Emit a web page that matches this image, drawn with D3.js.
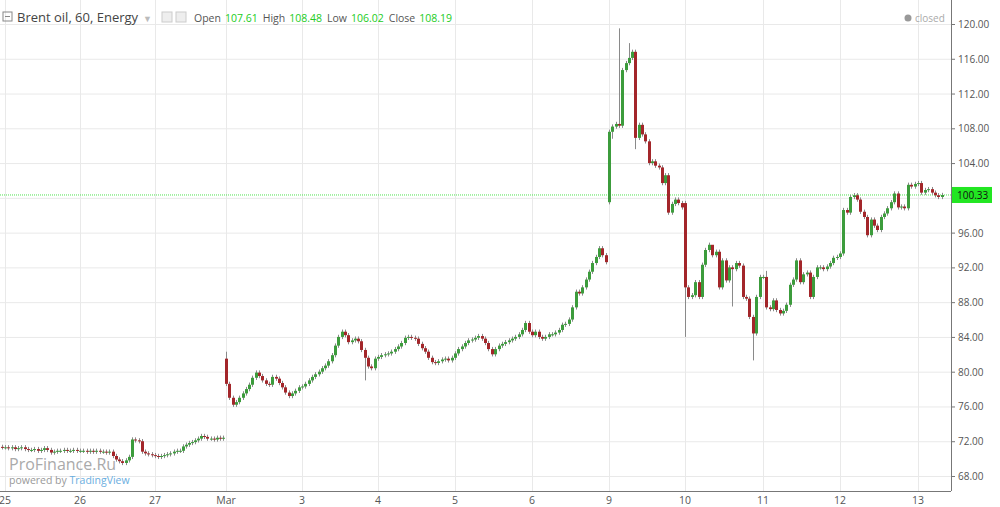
<!DOCTYPE html>
<html>
<head>
<meta charset="utf-8">
<script src="https://cdn.jsdelivr.net/npm/d3@7"></script>
<style>
  body { margin: 0; background: #fff; font-family: "Open Sans", Arial, sans-serif; }
  svg { display: block; }
</style>
</head>
<body>
<div id="chart"></div>
<script>
// hourly closes, one array per trading day (23 bars each)
const dayLabels = ["25", "26", "27", "Mar", "3", "4", "5", "6", "9", "10", "11", "12", "13"]
const dayPos = [5, 80, 155, 226, 302, 378, 455, 532, 609, 685, 763, 840, 918]
const preClose = 71.3
const dayCloses = [
  [71.3,71.2,71.3,71.1,71.2,71.3,71.1,71.0,71.0,71.1,70.9,71.0,71.2,71.0,70.7,70.8,70.9,70.9,71.0,70.9,70.9,71.0,70.9],
  [70.9,70.9,70.8,70.9,70.8,70.9,70.8,70.8,70.7,70.8,70.3,69.9,69.7,69.5,69.8,70.2,72.2,72.1,72.0,70.8,70.6,70.5,70.4],
  [70.3,70.2,70.3,70.4,70.5,70.6,70.8,70.9,70.9,71.4,71.6,71.8,71.9,72.1,72.3,72.6,72.5,72.3,72.3,72.2,72.4,72.3,72.4],
  [78.6,77.0,76.2,76.5,77.0,77.5,78.0,78.5,79.3,79.9,79.5,79.0,78.6,78.5,79.4,79.2,78.7,78.2,77.6,77.2,77.5,77.8,78.2],
  [78.3,78.6,79.0,79.4,79.7,80.0,80.4,80.7,81.2,81.9,83.0,84.0,84.6,84.2,83.4,83.6,83.8,83.5,82.5,81.6,80.6,80.4,81.5],
  [81.7,81.9,82.0,82.1,82.3,82.6,82.9,83.3,83.9,84.0,83.9,83.8,83.2,82.7,82.3,81.6,81.1,81.0,81.2,81.4,81.5,81.3,81.6],
  [82.1,82.6,82.9,83.3,83.6,83.7,83.9,84.1,83.8,83.3,82.6,82.0,82.6,83.0,83.2,83.4,83.6,83.8,84.0,84.3,84.8,85.6,84.6],
  [84.2,84.6,84.0,83.8,84.0,84.3,84.3,84.5,84.8,85.4,85.5,86.0,87.4,89.2,89.0,89.7,90.6,91.5,92.5,93.2,94.2,93.4,92.6],
  [107.6,108.2,108.5,108.3,114.7,115.5,116.1,116.8,106.9,108.4,107.3,106.5,104.0,104.2,103.7,103.5,101.7,102.6,98.3,99.3,99.8,99.4,98.9],
  [89.7,88.6,88.8,90.3,88.6,92.3,94.0,94.6,93.4,93.8,89.7,92.8,90.5,92.0,91.8,92.5,92.2,88.6,88.4,86.3,84.4,88.6,90.9],
  [90.9,87.4,87.2,88.2,87.1,86.7,87.0,87.7,90.0,90.6,92.8,90.3,91.2,91.4,88.6,90.9,92.0,92.0,91.8,92.1,92.5,93.1,93.2],
  [93.6,98.6,98.3,100.1,100.3,99.8,98.4,97.8,95.7,97.5,96.8,96.3,97.8,98.2,98.8,99.5,100.5,98.9,99.0,98.8,101.5,101.3,101.6],
  [101.7,100.6,100.9,101.0,100.6,100.3,100.1,100.33]
]
// gap opens after weekends / sessions
const gapOpens = [{ i: 70, o: 81.5 }, { i: 185, o: 99.5 }, { i: 208, o: 99.4 }]
// long wicks
const spikes = [
  { i: 70, h: 82.3 }, { i: 112, l: 79.0 }, { i: 188, h: 119.5 }, { i: 191, h: 117.8 },
  { i: 193, l: 105.6 }, { i: 208, l: 84.0 }, { i: 228, l: 81.3 }, { i: 232, h: 91.6 },
  { i: 186, l: 106.8 }, { i: 216, h: 93.8 }, { i: 222, l: 87.5 }
]
const yTicks = [68, 72, 76, 80, 84, 88, 92, 96, 100, 104, 108, 112, 116, 120]
const lastPrice = 100.33

const width = 1000, height = 507
const plotRight = 951, axisY = 491
const up = "#3c9c3c", down = "#a3262a", wickColor = "#8a8a8a"

const closes = [preClose].concat(dayCloses.flat())
const bars = closes.map((c, i) => {
  let o = i === 0 ? 71.35 : closes[i - 1]
  const g = gapOpens.find(d => d.i === i)
  if (g) o = g.o
  const s = spikes.find(d => d.i === i) || {}
  return {
    i, o, c,
    h: s.h !== undefined ? s.h : Math.max(o, c) + 0.25,
    l: s.l !== undefined ? s.l : Math.min(o, c) - 0.25
  }
})

const dayStart = dayLabels.map((d, k) => 1 + 23 * k)
const x = d3.scaleLinear().domain(dayStart).range(dayPos)
const y = d3.scaleLinear().domain([68, 120]).range([476, 24])

const svg = d3.select("#chart").append("svg")
  .attr("width", width).attr("height", height)

// grid
svg.append("g").selectAll("line").data(yTicks).enter().append("line")
  .attr("x1", 0).attr("x2", plotRight)
  .attr("y1", d => y(d) + 0.5).attr("y2", d => y(d) + 0.5)
  .attr("stroke", "#e9e9e9")
svg.append("g").selectAll("line").data(dayStart).enter().append("line")
  .attr("x1", d => Math.round(x(d)) + 0.5)
  .attr("x2", d => Math.round(x(d)) + 0.5)
  .attr("y1", 0).attr("y2", axisY)
  .attr("stroke", "#e9e9e9")

// last price line
svg.append("line")
  .attr("x1", 0).attr("x2", plotRight)
  .attr("y1", y(lastPrice)).attr("y2", y(lastPrice))
  .attr("stroke", "#4ee24e").attr("stroke-dasharray", "1,1")

// candles
const g = svg.append("g")
g.selectAll("line.wick").data(bars).enter().append("line")
  .attr("class", "wick")
  .attr("x1", d => Math.round(x(d.i)) + 0.5).attr("x2", d => Math.round(x(d.i)) + 0.5)
  .attr("y1", d => y(d.h)).attr("y2", d => y(d.l))
  .attr("stroke", wickColor)
g.selectAll("rect").data(bars).enter().append("rect")
  .attr("x", d => Math.round(x(d.i)) - 1)
  .attr("width", 3)
  .attr("y", d => y(Math.max(d.o, d.c)))
  .attr("height", d => Math.max(1, Math.abs(y(d.o) - y(d.c))))
  .attr("fill", d => d.c >= d.o ? up : down)

// axes
svg.append("line").attr("x1", plotRight + 0.5).attr("x2", plotRight + 0.5)
  .attr("y1", 0).attr("y2", axisY).attr("stroke", "#777")
svg.append("line").attr("x1", 0).attr("x2", plotRight)
  .attr("y1", axisY + 0.5).attr("y2", axisY + 0.5).attr("stroke", "#777")

const yAxis = svg.append("g")
yAxis.selectAll("line").data(yTicks).enter().append("line")
  .attr("x1", plotRight).attr("x2", plotRight + 4)
  .attr("y1", d => y(d) + 0.5).attr("y2", d => y(d) + 0.5).attr("stroke", "#777")
// the 100.00 label sits under the last-price tag
yAxis.selectAll("text").data(yTicks.filter(d => Math.abs(y(d) - y(lastPrice)) > 10)).enter().append("text")
  .attr("x", plotRight + 7).attr("y", d => y(d) + 4)
  .attr("font-size", 10).attr("fill", "#555")
  .text(d => d.toFixed(2))

svg.append("g").selectAll("text").data(dayLabels).enter().append("text")
  .attr("x", (d, k) => dayPos[k]).attr("y", 504)
  .attr("text-anchor", "middle").attr("font-size", 10.5).attr("fill", "#555")
  .text(d => d)

// price tag
svg.append("rect").attr("x", plotRight + 1).attr("y", y(lastPrice) - 8)
  .attr("width", 40).attr("height", 16).attr("fill", "#22e622")
svg.append("text").attr("x", plotRight + 6).attr("y", y(lastPrice) + 4)
  .attr("font-size", 10).attr("fill", "#111").text(lastPrice.toFixed(2))

// header
const head = svg.append("text").attr("x", 17).attr("y", 22).attr("font-size", 13)
head.append("tspan").attr("fill", "#444").text("Brent oil, 60, Energy")
head.append("tspan").attr("fill", "#bbb").attr("font-size", 9).attr("dx", 5).text("▼")
svg.append("rect").attr("x", 3).attr("y", 12).attr("width", 9).attr("height", 9)
  .attr("fill", "none").attr("stroke", "#888")
svg.append("line").attr("x1", 5).attr("x2", 10).attr("y1", 16.5).attr("y2", 16.5).attr("stroke", "#888")
svg.selectAll("rect.ic").data([162, 176]).enter().append("rect").attr("class", "ic")
  .attr("x", d => d).attr("y", 12).attr("width", 10).attr("height", 10)
  .attr("fill", "#eee").attr("stroke", "#ccc")
const ohlc = [["Open", "107.61"], ["High", "108.48"], ["Low", "106.02"], ["Close", "108.19"]]
const info = svg.append("text").attr("x", 194).attr("y", 22).attr("font-size", 10.5)
ohlc.forEach(([k, v], j) => {
  info.append("tspan").attr("fill", "#555").attr("dx", j ? 5 : 0).text(k)
  info.append("tspan").attr("fill", "#22cc22").attr("dx", 4).text(v)
})
svg.append("circle").attr("cx", 908).attr("cy", 18).attr("r", 3.5).attr("fill", "#999")
svg.append("text").attr("x", 915).attr("y", 22).attr("font-size", 10).attr("fill", "#aaa").text("closed")

// watermark
svg.append("text").attr("x", 9).attr("y", 470).attr("font-size", 16).attr("fill", "#aaa")
  .text("ProFinance.Ru")
const pw = svg.append("text").attr("x", 9).attr("y", 484).attr("font-size", 10.5).attr("fill", "#999")
pw.append("tspan").text("powered by ")
pw.append("tspan").attr("fill", "#6aaee0").text("TradingView")
</script>
</body>
</html>
